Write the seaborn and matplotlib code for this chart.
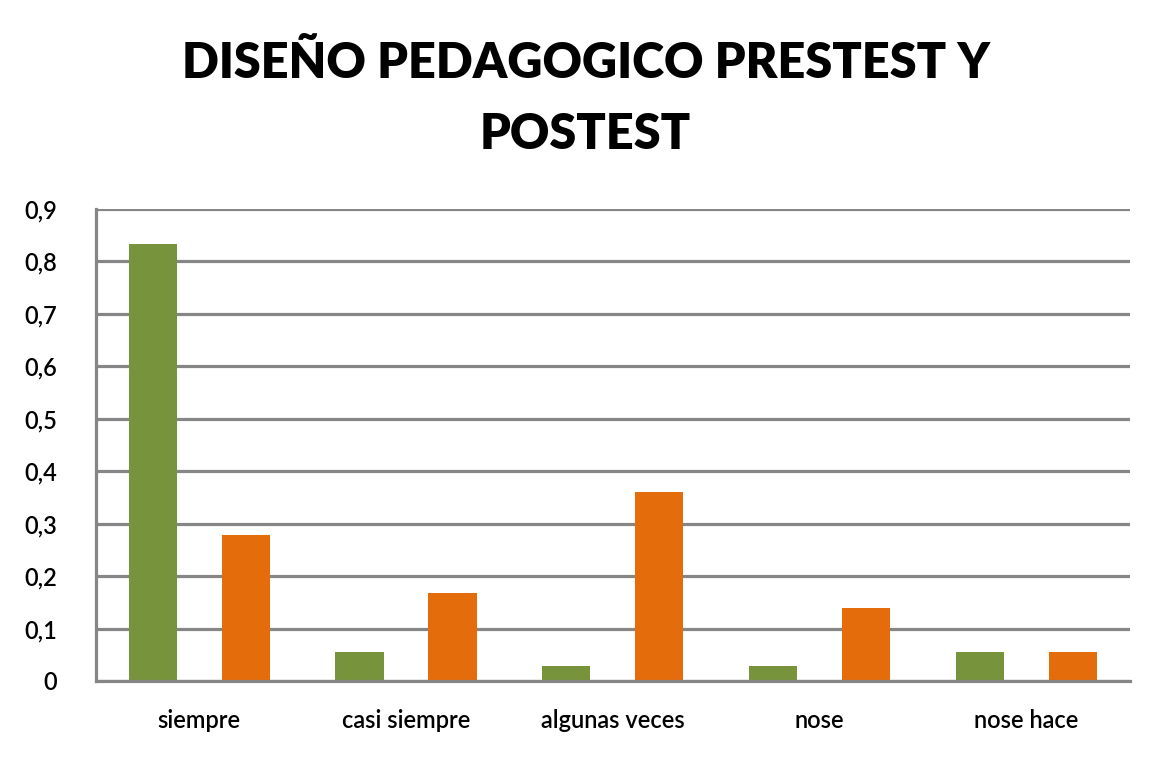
import numpy as np
import pandas as pd
import matplotlib
matplotlib.use('Agg')
import matplotlib.pyplot as plt
import seaborn as sns
from matplotlib.ticker import FuncFormatter

# data
categories = ['siempre', 'casi siempre', 'algunas veces', 'nose', 'nose hace']
pretest = [0.833, 0.056, 0.028, 0.028, 0.056]
postest = [0.278, 0.167, 0.361, 0.139, 0.056]
series_names = ['Pretest', 'Postest']
y_ticks = [0, 0.1, 0.2, 0.3, 0.4, 0.5, 0.6, 0.7, 0.8, 0.9]

df = pd.DataFrame({
    'categoria': categories * 2,
    'valor': pretest + postest,
    'serie': [series_names[0]] * len(categories) + [series_names[1]] * len(categories),
})

sns.set_theme(style='white')
plt.rcParams['font.family'] = ['Lato', 'DejaVu Sans']

fig = plt.figure(figsize=(11.55, 7.59), dpi=100)
ax = fig.add_axes([0.0831, 0.1028, 0.8949, 0.6218])

sns.barplot(data=df, x='categoria', y='valor', hue='serie',
            palette=['#77933C', '#E46C0A'], width=0.9, gap=0.48,
            legend=False, ax=ax, saturation=1, linewidth=0)

ax.set_ylim(0, 0.9)
ax.set_xlim(-0.5, len(categories) - 0.5)
ax.set_yticks(y_ticks)
ax.yaxis.set_major_formatter(FuncFormatter(lambda v, p: ('%g' % round(v, 1)).replace('.', ',')))
ax.yaxis.grid(True, color='#868686', linewidth=2.3)
ax.set_axisbelow(True)
for s in ['top', 'right']:
    ax.spines[s].set_visible(False)
for s in ['left', 'bottom']:
    ax.spines[s].set_color('#868686')
    ax.spines[s].set_linewidth(2.3)
ax.tick_params(axis='both', length=0, labelsize=17, colors='#000000')
ax.tick_params(axis='y', pad=28)
ax.tick_params(axis='x', pad=20)
for lbl in ax.get_xticklabels() + ax.get_yticklabels():
    lbl.set_fontweight('semibold')
ax.set_xlabel('')
ax.set_ylabel('')

fig.text(0.507, 0.869, 'DISEÑO PEDAGOGICO PRESTEST Y\nPOSTEST', ha='center', va='center',
         fontsize=35, fontweight='heavy', linespacing=1.7, color='#000000')

fig.savefig('out.png', dpi=100)
